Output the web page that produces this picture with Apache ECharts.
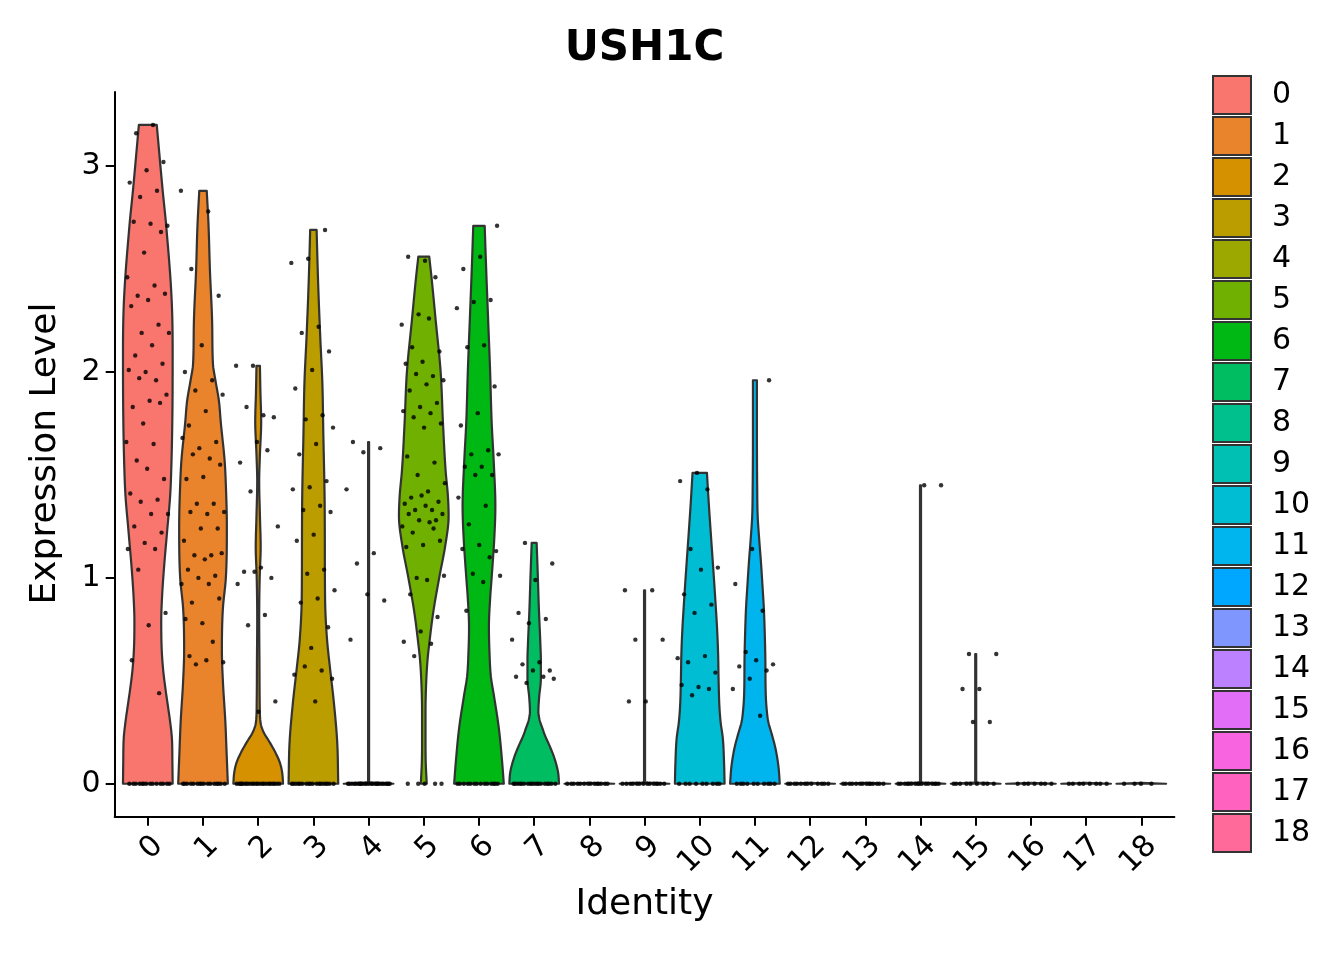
<!DOCTYPE html>
<html><head><meta charset="utf-8">
<script src="https://cdn.jsdelivr.net/npm/echarts@6/dist/echarts.min.js"></script>
<style>html,body{margin:0;padding:0;background:#fff}#c{width:1344px;height:960px}</style>
</head><body><div id="c"></div>
<script>
const categories = ['0','1','2','3','4','5','6','7','8','9','10','11','12','13','14','15','16','17','18'];
const colors = ['#F8766D','#E9842C','#D69100','#BC9D00','#9CA700','#6FB000','#00B813','#00BD61','#00C08E','#00C0B4','#00BDD4','#00B5EE','#00A7FF','#7F96FF','#BC81FF','#E26EF7','#F863DF','#FF62BF','#FF6A9A'];
const yTicks = [0,1,2,3];

// non-zero expression values per cluster
const pts0 = [3.20,3.16,3.02,2.98,2.92,2.88,2.85,2.71,2.72,2.73,2.68,2.58,2.46,2.42,2.37,2.38,2.35,2.32,2.23,2.19,2.19,2.13,2.08,2.04,2.00,2.01,1.96,1.97,1.89,1.86,1.83,1.85,1.75,1.66,1.65,1.57,1.48,1.53,1.41,1.38,1.37,1.31,1.31,1.25,1.22,1.17,1.14,1.14,1.04,0.83,0.77,0.60,0.44];
const pts1 = [2.88,2.78,2.50,2.37,2.13,2.00,1.96,1.91,1.89,1.81,1.74,1.66,1.63,1.68,1.58,1.60,1.55,1.49,1.48,1.36,1.36,1.32,1.31,1.32,1.24,1.24,1.18,1.11,1.11,1.12,1.09,1.04,1.01,1.00,0.97,0.97,0.88,0.90,0.78,0.80,0.69,0.58,0.59,0.60,0.62];
const pts2 = [2.03,2.03,1.79,1.83,1.78,1.66,1.56,1.62,1.42,1.25,1.05,1.03,1.00,1.03,0.97,0.82,0.77,0.40,0.35];
const pts3 = [2.69,2.55,2.53,2.22,2.19,2.10,2.01,1.92,1.79,1.77,1.73,1.65,1.60,1.47,1.44,1.43,1.35,1.33,1.32,1.21,1.18,1.04,1.02,0.94,0.90,0.88,0.76,0.66,0.53,0.55,0.57,0.51,0.40];
const pts4 = [1.66,1.63,1.61,1.43,1.12,1.07,0.89,0.92,0.70];
const pts5 = [2.54,2.56,2.46,2.28,2.23,2.26,2.12,2.10,2.05,2.04,1.98,1.99,1.96,1.94,1.91,1.85,1.83,1.81,1.80,1.78,1.75,1.73,1.59,1.56,1.50,1.46,1.42,1.39,1.37,1.40,1.36,1.33,1.33,1.31,1.35,1.31,1.28,1.28,1.25,1.27,1.22,1.18,1.16,1.15,1.24,1.00,1.01,0.99,0.92,0.81,0.74,0.69,0.68,0.62];
const pts6 = [2.71,2.56,2.50,2.35,2.34,2.31,2.13,2.12,1.93,1.80,1.74,1.62,1.60,1.60,1.54,1.54,1.50,1.50,1.39,1.35,1.26,1.13,1.16,1.14,1.10,1.02,1.01,0.98,0.84];
const pts7 = [1.17,1.07,0.99,0.83,0.80,0.78,0.70,0.59,0.58,0.55,0.55,0.52,0.52,0.49,0.51];
const pts8 = [];
const pts9 = [0.94,0.94,0.70,0.70,0.40,0.40];
const pts10 = [1.51,1.47,1.43,1.14,1.05,1.04,0.92,0.87,0.83,0.61,0.62,0.59,0.54,0.47,0.48,0.46,0.43];
const pts11 = [1.96,1.14,0.97,0.84,0.64,0.58,0.60,0.57,0.55,0.51,0.46,0.33];
const pts12 = [];
const pts13 = [];
const pts14 = [1.45,1.45];
const pts15 = [0.63,0.63,0.46,0.46,0.30,0.30];
const pts16 = [];
const pts17 = [];
const pts18 = [];
// number of cells with zero expression per cluster
const zeroCounts = [14,16,22,18,24,5,14,18,14,14,9,10,12,14,16,9,7,8,4];

// violin outlines: [expression, relative half width]
const shape0 = [[0,1],[0.1,0.99],[0.22,0.97],[0.3,0.9],[0.385,0.8],[0.47,0.7],[0.55,0.62],[0.65,0.56],[0.79,0.54],[0.9,0.57],[1.03,0.64],[1.23,0.78],[1.4,0.9],[1.55,0.95],[1.8,0.99],[2.1,1.0],[2.35,0.96],[2.71,0.74],[2.88,0.6],[3.2,0.36]];
const shape1 = [[0,1],[0.15,0.95],[0.3,0.9],[0.5,0.8],[0.65,0.76],[0.85,0.8],[1.0,0.92],[1.25,0.96],[1.45,0.92],[1.57,0.87],[1.75,0.72],[1.86,0.64],[1.96,0.5],[2.04,0.4],[2.23,0.37],[2.49,0.28],[2.72,0.22],[2.88,0.15]];
const shape2 = [[0,1],[0.05,0.97],[0.1,0.88],[0.15,0.7],[0.2,0.47],[0.25,0.22],[0.3,0.09],[0.4,0.06],[0.6,0.05],[0.8,0.04],[1.0,0.06],[1.15,0.1],[1.3,0.07],[1.47,0.04],[1.6,0.07],[1.76,0.12],[1.9,0.09],[2.03,0.07]];
const shape3 = [[0,1],[0.2,0.96],[0.4,0.82],[0.55,0.68],[0.7,0.55],[0.9,0.47],[1.2,0.46],[1.4,0.45],[1.7,0.4],[1.95,0.36],[2.16,0.28],[2.4,0.2],[2.6,0.15],[2.69,0.13]];
const shape4 = [[0,1],[0.008,0.02],[1.66,0.02]];
const shape5 = [[0,0.12],[0.1,0.08],[0.2,0.07],[0.35,0.07],[0.5,0.1],[0.6,0.15],[0.68,0.22],[0.84,0.39],[1.0,0.62],[1.16,0.87],[1.3,1.0],[1.4,0.97],[1.52,0.88],[1.76,0.77],[2.0,0.68],[2.25,0.48],[2.45,0.32],[2.56,0.22]];
const shape6 = [[0,1],[0.11,0.93],[0.27,0.8],[0.43,0.6],[0.52,0.48],[0.65,0.42],[0.76,0.4],[0.9,0.45],[1.0,0.51],[1.2,0.62],[1.35,0.66],[1.55,0.6],[1.76,0.51],[2.0,0.45],[2.25,0.37],[2.5,0.29],[2.71,0.23]];
const shape7 = [[0,1],[0.05,0.97],[0.09,0.9],[0.14,0.77],[0.19,0.6],[0.23,0.45],[0.27,0.33],[0.31,0.22],[0.35,0.17],[0.42,0.2],[0.51,0.27],[0.6,0.27],[0.68,0.25],[0.85,0.19],[1.0,0.15],[1.17,0.1]];
const shape8 = [[0,1],[0.005,0]];
const shape9 = [[0,1],[0.008,0.02],[0.94,0.02]];
const shape10 = [[0,1],[0.1,0.98],[0.22,0.93],[0.3,0.84],[0.38,0.79],[0.5,0.76],[0.63,0.74],[0.75,0.7],[0.87,0.64],[1.0,0.57],[1.19,0.46],[1.35,0.37],[1.51,0.29]];
const shape11 = [[0,1],[0.08,0.95],[0.17,0.83],[0.24,0.68],[0.3,0.54],[0.38,0.46],[0.46,0.43],[0.6,0.42],[0.71,0.4],[0.85,0.36],[0.95,0.31],[1.08,0.24],[1.19,0.17],[1.3,0.11],[1.45,0.09],[1.7,0.08],[1.96,0.08]];
const shape12 = [[0,1],[0.005,0]];
const shape13 = [[0,1],[0.005,0]];
const shape14 = [[0,1],[0.008,0.02],[1.45,0.02]];
const shape15 = [[0,1],[0.008,0.02],[0.63,0.02]];
const shape16 = [[0,1],[0.005,0]];
const shape17 = [[0,1],[0.005,0]];
const shape18 = [[0,1],[0.005,0]];

const allPts = [pts0,pts1,pts2,pts3,pts4,pts5,pts6,pts7,pts8,pts9,pts10,pts11,pts12,pts13,pts14,pts15,pts16,pts17,pts18];
const allShapes = [shape0,shape1,shape2,shape3,shape4,shape5,shape6,shape7,shape8,shape9,shape10,shape11,shape12,shape13,shape14,shape15,shape16,shape17,shape18];

const FONT = 'DejaVu Sans';

// monotone cubic densification of a profile (drawing helper)
function densify(shape){
  const n = shape.length;
  if (n < 3) return shape.slice();
  const xs = shape.map(p=>p[0]), ys = shape.map(p=>p[1]);
  const d = [], m = new Array(n);
  for (let i=0;i<n-1;i++) d.push((ys[i+1]-ys[i])/(xs[i+1]-xs[i]));
  m[0]=d[0]; m[n-1]=d[n-2];
  for (let i=1;i<n-1;i++){ m[i] = (d[i-1]*d[i] <= 0) ? 0 : (d[i-1]+d[i])/2; }
  for (let i=0;i<n-1;i++){
    if (d[i]===0){ m[i]=0; m[i+1]=0; continue; }
    const a=m[i]/d[i], b=m[i+1]/d[i], s=a*a+b*b;
    if (s>9){ const t=3/Math.sqrt(s); m[i]=t*a*d[i]; m[i+1]=t*b*d[i]; }
  }
  const out=[];
  for (let i=0;i<n-1;i++){
    const h=xs[i+1]-xs[i], steps=8;
    for (let k=0;k<steps;k++){
      const t=k/steps, t2=t*t, t3=t2*t;
      const v=(2*t3-3*t2+1)*ys[i]+(t3-2*t2+t)*h*m[i]+(-2*t3+3*t2)*ys[i+1]+(t3-t2)*h*m[i+1];
      out.push([xs[i]+t*h, Math.max(0,v)]);
    }
  }
  out.push([xs[n-1],ys[n-1]]);
  return out;
}

function makeRender(shape){
  const dense = densify(shape);
  return function(params, api){
    const cx = api.value(0);
    const half = api.size([0.45, 0])[0];
    const left=[], right=[];
    dense.forEach(function(p){
      const c = api.coord([cx, p[0]]);
      left.push([c[0]-half*p[1], c[1]]);
      right.push([c[0]+half*p[1], c[1]]);
    });
    const pts = left.concat(right.reverse());
    return {type:'polygon', shape:{points:pts},
      style:{fill: api.visual('color'), stroke:'#333333', lineWidth:2.2, lineJoin:'round'}};
  };
}

const series = [];
categories.forEach(function(name, i){
  series.push({
    type:'custom', name:name, color: colors[i],
    data:[[i, 0]], encode:{x:0, y:1},
    renderItem: makeRender(allShapes[i]), silent:true, z:2
  });
});

// jittered points (jitter offsets are positional only)
const scatterData = [];
allPts.forEach(function(arr, c){
  const vals = arr.concat(new Array(zeroCounts[c]).fill(0));
  vals.forEach(function(v, k){
    const t = ((k+1)*0.6180339887 + c*0.3819660113) % 1;
    scatterData.push([c + (t-0.5)*0.8, v]);
  });
});
series.push({type:'scatter', name:'cells', data:scatterData, symbol:'circle', symbolSize:4.4,
  itemStyle:{color:'#000'}, silent:true, z:5});

const chart = echarts.init(document.getElementById('c'), null, {renderer:'canvas'});
chart.setOption({
  animation:false,
  backgroundColor:'#fff',
  grid:{left:114.7, right:169.6, top:92, bottom:143.3},
  xAxis:{type:'value', min:-0.6, max:18.6,
    axisLine:{show:true, onZero:false, lineStyle:{color:'#000', width:2}},
    axisTick:{show:true, customValues:categories.map((c,i)=>i), length:9, lineStyle:{color:'#000', width:2}},
    axisLabel:{customValues:categories.map((c,i)=>i), rotate:45, fontSize:30, color:'#000', fontFamily:FONT, margin:14,
      align:'right', verticalAlign:'top',
      formatter:function(v){ return categories[Math.round(v)]; }},
    splitLine:{show:false}},
  yAxis:{type:'value', min:-0.16, max:3.36,
    axisLine:{show:true, onZero:false, lineStyle:{color:'#000', width:2}},
    axisTick:{show:true, customValues:yTicks, length:9, lineStyle:{color:'#000', width:2}},
    axisLabel:{customValues:yTicks, fontSize:30, color:'#000', fontFamily:FONT, margin:14},
    splitLine:{show:false}},
  legend:{data:categories, orient:'vertical', left:1212, top:75, padding:0, itemWidth:38, itemHeight:38, itemGap:1,
    icon:'rect', selectedMode:false,
    itemStyle:{borderColor:'#333333', borderWidth:2},
    formatter:function(n){ return '{a|'+n+'}'; },
    textStyle:{fontSize:30, lineHeight:34, color:'#000', fontFamily:FONT, rich:{a:{fontSize:30, lineHeight:34, color:'#000', fontFamily:FONT, padding:[0,0,0,16]}}}},
  graphic:[
    {type:'text', x:644.5, y:49, style:{text:'USH1C', font:'bold 42px "DejaVu Sans"', fill:'#000', align:'center', verticalAlign:'middle'}},
    {type:'text', x:644.5, y:905, style:{text:'Identity', font:'36px "DejaVu Sans"', fill:'#000', align:'center', verticalAlign:'middle'}},
    {type:'text', x:46, y:453.5, rotation:Math.PI/2, style:{text:'Expression Level', font:'36px "DejaVu Sans"', fill:'#000', align:'center', verticalAlign:'middle'}}
  ],
  series:series
});
</script></body></html>
